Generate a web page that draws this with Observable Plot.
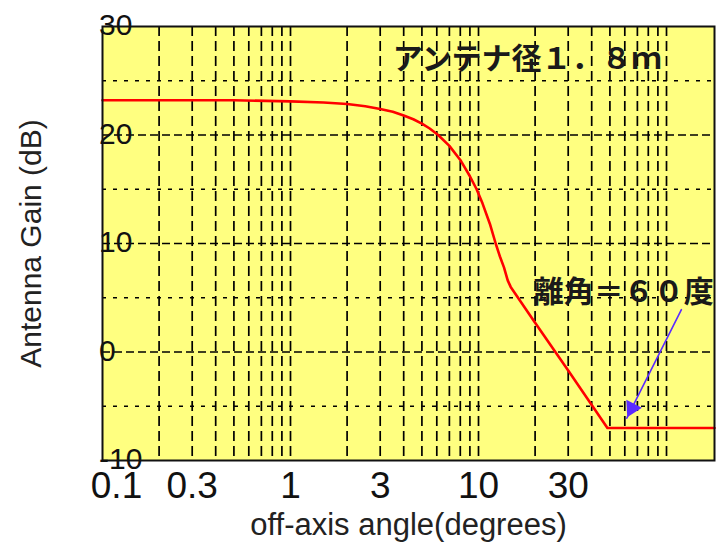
<!DOCTYPE html>
<html><head><meta charset="utf-8">
<script src="https://cdn.jsdelivr.net/npm/d3@7"></script>
<script src="https://cdn.jsdelivr.net/npm/@observablehq/plot@0.6"></script>
<style>body{margin:0;background:#fff;overflow:hidden}</style>
</head><body><div id="chart"></div>
<script>
// ---- data ----
const angles = [0.1, 0.5, 1, 1.5, 2, 2.5, 3, 3.5, 4, 4.5, 5, 5.5, 6.1, 7, 8, 9, 9.77, 10.5, 11.5, 12.34, 13, 13.66, 14.3, 14.83, 20, 30, 48.5, 180];
const gains  = [23.2, 23.2, 23.1, 23.0, 22.85, 22.65, 22.4, 22.15, 21.8, 21.45, 21.05, 20.6, 20.0, 19.0, 17.7, 16.2, 15.0, 13.7, 11.8, 10.0, 8.8, 7.8, 6.6, 6.0, 2.7, -1.7, -7.0, -7.0];

const xTickValues = [0.1, 0.3, 1, 3, 10, 30];
const xTickLabels = ["0.1", "0.3", "1", "3", "10", "30"];
const yTickValues = [-10, 0, 10, 20, 30];
const yTickLabels = ["-10", "0", "10", "20", "30"];
const xGridValues = [0.2,0.3,0.4,0.5,0.6,0.7,0.8,0.9,1,2,3,4,5,6,7,8,9,10,20,30,40,50,60,70,80,90,100];
const yMajorGrid = [0, 10, 20];
const yMinorGrid = [-5, 5, 15, 25];

const noteTexts  = ["アンテナ径１．８ｍ", "離角＝６０度"];
const noteAngles = [3.5, 19.7];
const noteGains  = [27.0, 5.5];

const arrowFrom = [120, 3.9];   // [angle, gain]
const arrowTo   = [61.5, -6.1]; // [angle, gain]

const xTitle = "off-axis angle(degrees)";
const yTitle = "Antenna Gain (dB)";

// ---- build tables ----
const curve = angles.map((a, i) => ({angle: a, gain: gains[i]}));
const notes = noteTexts.map((t, i) => ({text: t, angle: noteAngles[i], gain: noteGains[i]}));
const arrows = [{x1: arrowFrom[0], y1: arrowFrom[1], x2: arrowTo[0], y2: arrowTo[1]}];
const xLabel = d => xTickLabels[xTickValues.indexOf(d)];
const yLabel = d => yTickLabels[yTickValues.indexOf(d)];

const plot = Plot.plot({
  width: 717,
  height: 546,
  marginLeft: 102,
  marginRight: 3,
  marginTop: 26,
  marginBottom: 86,
  x: {type: "log", domain: [0.1, 180], axis: null},
  y: {domain: [-10, 30], axis: null},
  style: {background: "white", fontFamily: "'Liberation Sans', Arial, sans-serif", overflow: "visible"},
  marks: [
    Plot.frame({fill: "#ffff80"}),
    Plot.ruleX(xGridValues, {x: d => d, stroke: "#000", strokeWidth: 1.7, strokeDasharray: "10,5"}),
    Plot.ruleY(yMajorGrid, {y: d => d, stroke: "#000", strokeWidth: 1.7, strokeDasharray: "8,4"}),
    Plot.ruleY(yMinorGrid, {y: d => d, stroke: "#000", strokeWidth: 1.7, strokeDasharray: "4,7"}),
    Plot.line(curve, {x: "angle", y: "gain", stroke: "#ff0000", strokeWidth: 2.6}),
    Plot.frame({stroke: "#111", strokeWidth: 2}),
    Plot.text(notes, {x: "angle", y: "gain", text: "text", textAnchor: "start", fontSize: 30, fontWeight: "bold",
      fontFamily: "'Noto Sans CJK JP', sans-serif", fill: "#1a1a1a"}),
    Plot.arrow(arrows, {x1: "x1", y1: "y1", x2: "x2", y2: "y2", stroke: "#5b2bff", strokeWidth: 1.6, headLength: 0}),
    Plot.dot(arrows, {x: "x2", y: "y2", symbol: "triangle", r: 6.5, fill: "#5b2bff", stroke: "none", rotate: 207, dx: 5, dy: -10}),
    Plot.text(yTickValues, {y: d => d, text: yLabel, frameAnchor: "left", textAnchor: "start", dx: -3.5, dy: -1, fontSize: 30, fill: "#111"}),
    Plot.text(xTickValues, {filter: d => d !== xTickValues[0], x: d => d, text: xLabel, frameAnchor: "bottom", dy: 37, fontSize: 37, fill: "#111"}),
    Plot.text([xTickValues[0]], {x: d => d, text: xLabel, frameAnchor: "bottom", dy: 37, dx: 14, fontSize: 37, fill: "#111"}),
    Plot.text([xTitle], {frameAnchor: "bottom", textAnchor: "middle", dy: 74, fontSize: 31, fill: "#222"}),
    Plot.text([yTitle], {frameAnchor: "left", textAnchor: "middle", rotate: -90, dx: -71, fontSize: 30, fill: "#222"})
  ]
});
document.getElementById("chart").appendChild(plot);
</script>
</body></html>
